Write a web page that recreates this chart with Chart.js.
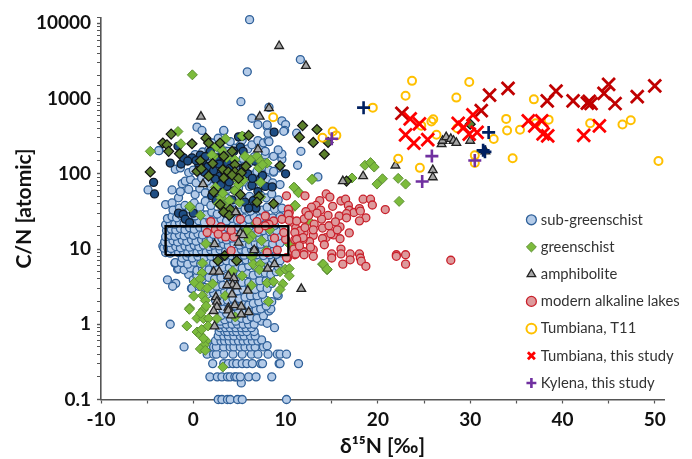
<!DOCTYPE html>
<html>
<head>
<meta charset="utf-8">
<style>html,body{margin:0;padding:0;background:#fff}canvas{display:block}</style>
<script src="https://cdn.jsdelivr.net/npm/chart.js@4"></script>
</head>
<body>
<canvas id="c" width="692" height="459"></canvas>
<script>
const xTickLabels = [-10, 0, 10, 20, 30, 40, 50];
const yTickLabels = [0.1, 1, 10, 100, 1000, 10000];
const legendNames = ['sub-greenschist','greenschist','amphibolite','modern alkaline lakes','Tumbiana, T11','Tumbiana, this study','Kylena, this study'];
const boxCorners = [[-3,8.3],[10.3,8.3],[10.3,20.1],[-3,20.1],[-3,8.3]];

const subGreenschist = [
[2.7,.1],[3.1,.1],[3.7,.1],[4,.1],[4.8,.1],[5.3,.1],[10.1,.1],
[5.2,.166],[1.8,.2],[2.6,.2],[3.1,.2],[3.7,.2],[4,.2],[4.5,.2],[4.7,.2],[5.1,.2],[6,.2],[6.8,.2],[8.5,.2],
[2.1,.3],[3.3,.3],[3.8,.3],[4.3,.3],[4.7,.3],[5.3,.3],[5.8,.3],[6.4,.3],[7.3,.3],[7.5,.3],[9.3,.3],[9.4,.3],[11.4,.3],
[1.5,.4],[2.2,.4],[2.5,.4],[3.3,.4],[4.3,.4],[5.3,.4],[6.3,.4],[7,.4],[8.1,.4],[9.1,.4],[9.4,.4],[10.1,.4],
[-1,.5],[1.9,.5],[2.2,.5],[2.5,.5],[3.3,.5],[4,.5],[4.4,.5],[5.1,.5],[5.6,.5],[6.2,.5],[6.7,.5],[7.6,.5],[8,.52],
[2.4,.6],[3,.6],[3.4,.6],[3.9,.6],[4.4,.6],[4.9,.6],[5.4,.6],[5.9,.6],[6.4,.6],[7,.6],[7.4,.62],[2.7,.7],[3.3,.7],[3.8,.7],[4.4,.7],[5.1,.7],[5.5,.7],[6.2,.7],[6.7,.7],
[2.8,.8],[3.4,.8],[3.7,.8],[4.3,.8],[4.7,.8],[5.3,.8],[5.8,.8],[6.6,.8],[2.9,.9],[3.5,.9],[4,.9],[4.6,.9],[5.2,.9],[5.7,.9],[6.3,.9],[8.8,.9],
[-2.5,1],[3,1],[3.6,1],[4.2,1],[4.8,1],[5.4,1],[6,1],[6.6,1],[7.4,1.1],[8,1.03],
[2.9,1.1],[3.4,1.15],[4,1.2],[4.6,1.1],[5.2,1.2],[5.8,1.15],[6.3,1.25],[6.9,1.2],[7.6,1.3],[8.2,1.5],[8.4,1.6],
[3,1.3],[3.6,1.4],[4.3,1.35],[4.9,1.5],[5.5,1.4],[6.1,1.5],[6.8,1.55],[7.3,1.6],[7.9,1.75],[3.2,1.6],[3.9,1.7],[4.6,1.75],[5.3,1.85],[6,1.8],[6.5,1.9],[7.1,2],[7.8,2.1],[8.5,2],
[2.4,2.1],[3,2],[3.7,2.1],[4.3,2.2],[5,2.2],[5.6,2.3],[6.2,2.4],[6.9,2.4],[7.5,2.5],[9.2,2.4],[9.1,2.5],[1.5,2.5],[2.2,2.6],[2.8,2.5],[3.4,2.7],[4,2.7],[4.8,2.8],[5.4,2.9],[6.1,3],[6.7,2.9],[7.3,3.1],[8,3],
[-.2,3],[-.14,3],[.6,3.2],[1.2,3.1],[1.9,3],[2.5,3.2],[3.2,3.3],[3.9,3.4],[4.6,3.4],[5.3,3.6],[6,3.6],[6.6,3.7],[7.2,3.8],[7.9,3.8],[8.5,3.5],
[-2.8,3.9],[-1.9,3.5],[-2.24,3.2],[-.5,4.6],[0,3.9],[.4,4.3],[1,4],[1.7,4.2],[2.3,4],[3,4.2],[3.7,4.4],[4.4,4.3],[5.1,4.6],[5.8,4.7],[6.5,4.5],[7.1,4.8],[7.8,4.8],[8.4,4.6],[9,5],
[-1.7,5.4],[-1.6,5.5],[-1,5.3],[-.3,5.6],[.4,5.2],[1,5.5],[1.7,5.3],[2.4,5.4],[3.2,5.7],[3.9,5.6],[4.6,5.8],[5.3,5.6],[6,6],[6.7,5.9],[7.4,6],[8.1,6.2],[9.2,5.8],
[-2,6.5],[-1.95,6.6],[-1.3,6.6],[-.6,6.3],[.1,6.7],[.8,6.4],[1.5,6.9],[2.2,6.5],[2.9,6.8],[3.6,7],[4.3,6.7],[5,7],[5.7,7.2],[6.4,7],[7.1,7.4],[7.8,7.3],[8.6,7.5],[9.4,7],
[-1.2,7.6],[-.7,8],[-.1,7.6],[.5,8],[1.2,7.7],[1.9,8],[2.6,7.8],[3.4,8],[4.1,8.2],[4.8,7.9],[5.5,8.3],[6.2,8.2],[6.9,8.4],[7.6,8.2],[8.3,8.4],[9,8.5],
[-3.3,11],[-3,9],[-2.5,8.8],[-2.1,9.5],[-1.6,9],[-1.1,9.4],[-.6,8.9],[-.1,9.5],[.4,9],[.9,9.6],[1.4,9.1],[1.9,9.7],[2.4,9.2],[2.9,9.8],[3.5,9.3],[4,9.8],[4.6,9.3],[5.2,9.9],[5.7,9.4],[6.3,9.9],[6.9,9.5],[7.5,10],[8.2,9.6],[8.8,10],
[-3.2,10.3],[-2.8,10.5],[-2.4,10.2],[-1.9,10.8],[-1.4,10.4],[-.9,11],[-.4,10.6],[.1,11.2],[.6,10.7],[1.1,11.3],[1.7,10.8],[2.2,11.3],[2.8,11],[3.3,11.6],[3.8,11.1],[4.4,11.8],[5,11.3],[5.5,12],[6.1,11.4],[6.7,12],[7.3,11.6],[7.9,12.2],[8.6,11.8],[9.4,12],
[-3.1,12.5],[-2.6,12.2],[-2.2,12.9],[-1.7,12.4],[-1.2,13.1],[-.7,12.6],[-.2,13.3],[.3,12.7],[.9,13.4],[1.4,12.8],[1.9,13.6],[2.5,13],[3.1,13.8],[3.6,13.2],[4.2,14],[4.8,13.4],[5.4,14.2],[6,13.6],[6.6,14.4],[7.2,13.8],[7.9,14.6],[8.5,14.2],[9.2,14.8],
[-3,14.6],[-2.5,15.2],[-2,14.8],[-1.5,15.5],[-1,15],[-.5,15.9],[0,15.2],[.5,16],[1,15.4],[1.6,16.3],[2.2,15.6],[2.8,16.6],[3.4,15.9],[4,16.8],[4.6,16.2],[5.2,17],[5.8,16.4],[6.4,17.2],[7,16.7],[7.6,17.6],[8.3,17],[9,17.6],
[-2.9,17.6],[-2.4,18.4],[-1.9,17.9],[-1.4,18.8],[-.9,18.1],[-.4,19.2],[.1,18.3],[.7,19.5],[1.3,18.6],[1.9,19.9],[2.5,19],[3.1,20.2],[3.7,19.3],[4.3,20.6],[4.9,19.7],[5.5,21],[6.1,20],[6.7,21.4],[7.3,20.4],[8,21.2],[8.8,20.6],
[-3,21],[-2.5,22],[-2,21.4],[-1.5,22.6],[-1,21.8],[-.5,23.2],[0,22.2],[.6,23.8],[1.2,22.6],[1.8,24.4],[2.4,23],[3,25],[3.6,23.6],[4.2,25.6],[4.8,24.2],[5.4,26.2],[6,24.8],[6.6,26.8],[7.2,25.4],[7.9,27.4],[8.6,26],[9.4,27],
[-2.8,25.4],[-2.3,27],[-1.8,26],[-1.3,28],[-.8,26.8],[-.3,29],[.2,27.6],[.8,30],[1.4,28.4],[2,31],[2.6,29.2],[3.2,32],[3.8,30],[4.4,33],[5,31],[5.6,34],[6.2,32],[6.8,35],[7.4,33],[8,36],[8.8,34],[9.6,35],
[-3,39],[-2.3,41],[-1.6,48],[-2.2,33],[-1.5,35],[-.9,38],[-.4,34],[.1,41],[.7,36],[1.3,43],[1.9,38],[2.5,45],[3.1,40],[3.7,47],[4.3,42],[4.9,49],[5.5,44],[6.1,50],[6.7,46],[7.3,52],[7.9,48],[8.5,54],[9.2,45],
[-4.9,61],[-2.3,61],[-1.4,58],[-.5,62],[.2,53],[.7,64],[1.3,56],[1.9,68],[2.5,59],[3.1,70],[3.7,62],[4.3,74],[4.9,65],[5.5,78],[6.1,68],[6.7,80],[7.3,72],[8,84],[8.6,76],[9.4,72],
[-1.2,74],[-.87,80],[-.3,84],[.3,76],[.9,88],[1.5,80],[2.1,93],[2.7,84],[3.3,96],[3.9,88],[4.5,100],[5.1,92],[5.7,104],[6.3,96],[6.9,108],[7.5,100],[8.2,112],[8.7,105],[9.6,156],[9.3,120],
[-1.95,115],[-1.4,120],[-.5,104],[0,112],[.6,128],[1.2,108],[1.8,136],[2.4,116],[3,144],[3.6,122],[4.2,152],[4.8,130],[5.4,160],[6,138],[6.6,168],[7.2,146],[7.8,178],[8.7,108],[8.7,171],[9.6,183],[9.2,208],
[-3.7,204],[-3.75,203],[.2,180],[1,195],[1.7,210],[2.3,185],[2.9,225],[3.5,200],[3.8,199],[4.5,220],[5.1,240],[5.9,214],[6.35,243],[7.3,231],[7.8,199],[7,276],[7.6,258],[8.1,280],[8.2,268],[11.66,199],[11.3,130],[13.5,91],
[.4,417],[.94,377],[2.1,257],[2.7,297],[3.3,372],[3.3,377],[4,268],[5.3,281],[6.35,548],[7,452],[8,425],[8.1,347],[8,448],[9.6,505],[10,452],[9.9,377],[9.8,367],[11.2,347],[5.16,910],[5.85,2270],[6.1,11200],[8.2,765],[11.6,3300]
];
const subGreenschistDark = [
[8.76,358],[10,100],[-4.3,77],[-4.2,54],[-2.5,139],[-1.33,135],[-1.66,232],[-1.05,163],[-.14,163],[.76,177],[1.84,199],[2.57,163],[4.9,310],[5.3,315],[5.1,226],[5.4,199],[3.7,140],[2.9,93],[5.4,120],[3.65,68],[6.35,70],[7.25,85],[7.8,68],[8.55,67],[6.7,147],[2,51],[5.6,42],[6.8,35],[6,35],[-1.6,30],[-1.1,29],[0,30],[-.87,25],[-.4,22.5],[1,150],[1.6,125],[2.2,110],[2.8,135],[3.4,105],[4,118],[4.6,96],[5,78],[.6,135],[1.2,105],[2.4,85],[3,72],[3.9,78],[4.5,60],[3.1,55],[5.9,100],[6.4,87],[7,58],[4.2,45],[6.5,44],[2.5,44],[1.3,170],[.3,150],[-.6,148],[4.4,200],[3.2,175],[7.5,95],[6.6,9.5]
];
const greenschist = [
[-4.66,199],[-1.66,365],[-1.34,251],[3.5,292],[5.3,318],[2.2,171],[3.1,205],[2.5,230],[6.2,154],[5.6,171],[6.9,171],[7.3,147],[8,139],[7.1,120],[7.5,132],[7.3,77],[4.5,154],[4.5,60],[-.3,36],[3,48],[2.7,40],[3.2,38],[5,42],[11,65],[11.4,57.5],[11,37],[7.3,49],[-.1,2070],[12.9,85],[3.2,55],[4.6,88],[5.4,82],[2.4,66],[3.9,44],[4.9,72],[2,178],[3.6,165],
[-.4,37],[.76,28],[3.1,39],[11,38],[1.37,11.8],[5.8,17.8],[6.35,15],[7.4,12.9],[6,13.5],[1,6.5],[.94,4.8],[2.1,3.45],[.14,3.6],[.75,4],[.75,3.2],[1.5,3],[.04,2.37],[1,2.4],[1.3,2.07],[-.4,1.64],[6.35,7.9],[6.5,6.3],[7.25,6.3],[7.15,5.3],[5.3,4.4],[4.26,5.1],[6.3,3.3],[8,3.55],[8.7,3.7],[9.4,5],[9.95,5.4],[10.4,5.5],[10.4,4.4],[9.7,3.45],[9.4,2.9],[8.15,2],[3.45,2.4],[10.4,11.6],[7.9,9.5],[8.3,18],[6.8,22],[10.7,11.6],[12.5,23.7],
[-.43,1.58],[-.7,.95],[.4,.79],[.76,.72],[1.4,.6],[1.2,.53],[.76,.47],[1.3,.45],[3.2,.27],[.4,1.2],[1.1,1.19],[1.66,1.19],[2.56,1.19],[4.55,1.25],[1.1,1.56],[.8,1.4],[1.4,1.75],[.9,.85],[1.1,.65],[1.6,.95],
[14,6.3],[14.5,5.3],[14.1,6.3],[14.5,5.4],[10.9,66.5],[11.4,56],[11.05,38],[12.85,84],[17.2,88],[18.6,130],[19.2,141],[19.6,123],[20.5,86],[19.9,73],[22.2,87],[23,73],[22.3,43]
];
const greenschistDark = [
[-4.66,106],[-2.4,337],[-3.3,257],[-2.85,243],[-2.67,199],[-1.5,185],[-.14,251],[1.37,298],[1.66,257],[2.9,257],[6,324],[11.84,438],[11.5,307],[9.4,128],[4.2,199],[3.3,171],[.76,149],[2.1,137],[.4,108],[.87,117],[3.2,114],[3.8,106],[4.5,132],[4.5,106],[5.2,103],[5.7,126],[1.66,93],[3.3,88],[4.2,96],[4.9,87],[2.2,57.5],[5.1,53],[7.1,50],[8.7,40],[4,33.6],[2.9,39],[13.4,388],[13,261],[14.2,182],[14.6,261],[16.6,80],[30,457],[2.67,7],[3.4,8.2],[4.7,7],[3.3,31],[3.9,28],[6.9,42]
];
const amphibolite = [
[9.3,5000],[12.2,2720],[.83,577],[7.2,577],[8.2,745],[7,211],[1.05,73],[4.66,31],[16.2,80],[21.9,129],[18.4,93],[26.9,248],[27,275],[27.4,307],[27.9,292],[28.2,275],[28.5,258],[30,275],[31.65,199],[25.95,112],[25.95,90],
[2.3,11.6],[5.1,16.3],[5.4,15.3],[4.9,12.2],[4.6,31],[6.6,9.7],[8.8,6.3],[8.05,5.5],[2.2,5],[2.8,5],[3.8,4.4],[4.4,4.1],[4.26,3.37],[4.7,3.2],[3.65,3.3],[4.2,2.5],[5.9,2.8],[11.7,2.96],[2.45,2.3],[2.56,2],[2.56,1.7],[3.8,1.66],[4.5,1.8],[5.2,1.72],[2.2,1.5],[3.8,1.53],[5.2,1.35],[4.1,1.31],[6,1.45],[2.3,.94]
];
const alkalineLakes = [
[14.4,54],[14.8,49],[13.7,44],[13.3,38],[12.8,36],[12.1,51],[10.1,51],[16,43.5],[16.5,46],[16.8,38],[15.1,37],[13.8,33],[12.2,31.5],[16.9,32.8],[17.4,30.6],[18,34.5],[18.4,46],[19.2,46],[19.4,38.5],[18.1,32],[18.7,26],[18,23.7],[20.8,33.5],[16.6,29.5],[15.8,27.5],[16.6,26],[14.6,28],[13.9,25],[12,25],[10.4,30.6],[10.4,26],[10.8,22.5],[13.1,21.4],[14,19],[14.7,20.4],[15.9,19.7],[16.9,16.4],[15.2,15.4],[14.4,14.2],[15.9,13.7],[14,13.8],[13,15.2],[12.6,12.6],[11.9,13.5],[11,13.3],[12,16.6],[11.1,19],[11.6,17.5],[14.2,11.4],[13,9.8],[12,9.2],[11,9.5],[13,8],[12,8.4],[11,8.4],[10.2,7.6],[15,8.6],[15,7.6],[16,10],[16,8.6],[16.2,6.3],[17,8.6],[17,7.2],[18,8.6],[18.1,7.6],[18.2,6.9],[18.7,5.9],[22,8.4],[22,8],[23,8.4],[23,6.3],[27.9,7.1],
[1.9,23.2],[1.5,16.6],[2.4,18.3],[3,19.7],[3.5,14.5],[4.4,14.5],[4.1,17.8],[5.1,24.9],[4.1,9.5],[8,9],[9.1,9.7],[10,13.5],[9.8,16.6],[9.6,24.9],[8.7,23.6],[7.8,27.5],[6.9,23.2],[8.8,14],[10.3,33.8],[10.3,29],[10.4,24],[11.2,23.6],[12.1,19.3],[11,16.6],[11.9,14.2],[11.2,13.5],[10.9,10],[11.1,8.6],[10.1,7.7],[8.2,21.3],[7.1,18.3],[7.8,20.4],[2.7,15.8],[12.5,28],[13.4,30],[15.4,23],[13,18],[14.9,16],[15.6,18],[11.5,11],[12.7,10.6]
];
const tumbianaT11 = [
[19.45,758],[23.7,1720],[23,1090],[24.7,437],[25.8,495],[26,531],[26.35,330],[22.2,159],[24.55,120],[28.5,1030],[29.9,1660],[28.6,404],[32.55,290],[30.5,176],[30.5,139],[33.9,537],[34,377],[35.4,385],[34.6,161],[36.9,977],[37.1,470],[38.5,525],[43,470],[46.5,452],[47.4,515],[50.4,148],[8.66,565],[14,301],[15.1,365],[15.5,324]
];
const tumbianaThisStudy = [
[23.5,537],[24.5,461],[23,330],[23.9,256],[25.4,284],[30.3,606],[28.7,470],[29.3,413],[29.9,337],[30.75,355],[36.3,505],[37,435],[37.75,505],[37.9,340],[38.4,320],[44,435],[42.3,324]
];
const tumbianaThisStudyDark = [
[22.6,638],[32.1,1115],[34.1,1365],[31.2,693],[39.3,1260],[38.35,930],[41.15,930],[42.7,870],[42.9,920],[43.1,860],[45,1540],[44.5,1170],[45.7,860],[48.1,1060],[50,1480]
];
const kylenaThisStudy = [[25.85,172],[24.8,79],[30.5,150],[15,292]];
const kylenaDark = [[18.45,758],[32,355],[31.4,205],[31.6,196]];

function pts(a){return a.map(p=>({x:p[0],y:p[1]}));}
function series(label,data,style,pointRadius,bg,border,bw,order){
  return {label,data:pts(data),pointStyle:style,pointRadius,pointHoverRadius:pointRadius,backgroundColor:bg,borderColor:border,borderWidth:bw,order,clip:false};
}
const datasets = [
  series(legendNames[0],subGreenschist,'circle',4,'#B4CBE8','#2F6099',1.3,9),
  series(legendNames[1],greenschist,'rectRot',5,'#7CBB3C','#5E8F35',1,7),
  series(legendNames[2],amphibolite,'triangle',5,'#A6A6A6','#222222',1.3,4),
  series(legendNames[3],alkalineLakes,'circle',4,'#DD9A9C','#C9202B',1.3,5),
  series(legendNames[4],tumbianaT11,'circle',4,'rgba(255,255,255,0)','#FFC000',2,3),
  series(legendNames[5],tumbianaThisStudy,'crossRot',9,'#FF0000','#FF0000',2.8,2),
  series(legendNames[6],kylenaThisStudy,'cross',6.5,'#7030A0','#7030A0',2.6,1),
  series('_subDark',subGreenschistDark,'circle',4,'#1F4E84','#0E1A2A',1.3,8),
  series('_greenDark',greenschistDark,'rectRot',5,'#5B7F2B','#111111',1.2,6),
  series('_tumbianaDark',tumbianaThisStudyDark,'crossRot',9,'#C00000','#C00000',2.8,2),
  series('_kylenaDark',kylenaDark,'cross',6.5,'#002060','#002060',2.6,1),
  {label:'_box',data:pts(boxCorners),showLine:true,fill:false,pointRadius:0,pointHoverRadius:0,borderColor:'#000000',borderWidth:2.4,tension:0,order:0,clip:false}
];

const axisColor = '#555555';
const moveLegend = {
  id:'moveLegend',
  afterLayout(chart){ chart.legend.left = 517; chart.legend.top = 200; chart.legend.right = 692; chart.legend.bottom = 459; }
};
new Chart(document.getElementById('c'),{
  type:'scatter',
  data:{datasets},
  plugins:[moveLegend],
  options:{
    responsive:false,animation:false,
    layout:{padding:{top:15,right:28,left:0,bottom:0}},
    plugins:{
      tooltip:{enabled:false},
      title:{display:false},
      legend:{
        display:true,position:'chartArea',align:'start',
        labels:{
          filter:i=>!i.text.startsWith('_'),
          sort:(a,b)=>a.datasetIndex-b.datasetIndex,
          usePointStyle:true,boxWidth:4,boxHeight:7,padding:12.4,
          font:{family:'Lato',size:14.8},color:'#333333'
        }
      }
    },
    scales:{
      x:{
        type:'linear',min:-10,max:51,
        afterFit(s){s.height=59.5;},
        border:{color:axisColor,width:1.6},
        grid:{drawOnChartArea:false,drawTicks:true,tickLength:4,tickColor:axisColor,tickWidth:1.2},
        ticks:{stepSize:5,includeBounds:false,autoSkip:false,maxRotation:0,padding:5,color:'#111',font:{family:'Lato',size:19,weight:'bold'},
          callback:v=>xTickLabels.includes(v)?String(v):''},
        title:{display:true,text:'δ¹⁵N [‰]',color:'#111',font:{family:'Lato',size:21,weight:'bold'},padding:{top:2,bottom:0}}
      },
      y:{
        type:'logarithmic',min:0.1,max:12000,
        afterFit(s){s.width=101;},
        border:{color:axisColor,width:1.6},
        grid:{drawOnChartArea:false,drawTicks:true,tickLength:4,tickColor:axisColor,tickWidth:c=>c.tick&&yTickLabels.includes(c.tick.value)?1.4:1},
        ticks:{autoSkip:false,padding:6,color:'#111',font:{family:'Lato',size:19,weight:'bold'},
          callback:v=>yTickLabels.includes(v)?String(v):''},
        title:{display:true,text:'C/N [atomic]',color:'#111',font:{family:'Lato',size:21,weight:'bold'},padding:{top:12,bottom:0}}
      }
    }
  }
});
</script>
</body>
</html>
